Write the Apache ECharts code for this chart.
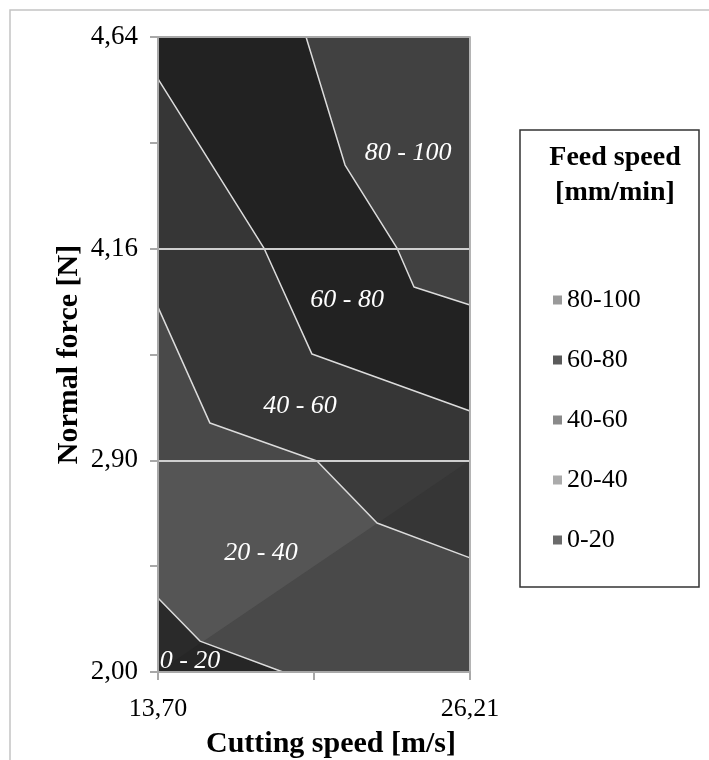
<!DOCTYPE html>
<html><head><meta charset="utf-8">
<script src="https://cdn.jsdelivr.net/npm/echarts@6/dist/echarts.min.js"></script>
<style>html,body{margin:0;padding:0;background:#fff}#c{width:709px;height:760px}</style>
</head><body><div id="c"></div>
<script>
// ---- data ----
const xTickLabels = ['13,70', '', '26,21'];          // cutting speed [m/s] (category positions 0..2)
const yTickLabels = ['2,00', '2,90', '4,16', '4,64'];  // normal force [N] (category positions 0..3)
const bandNames = ['0-20', '20-40', '40-60', '60-80', '80-100'];
const legendOrder = ['80-100', '60-80', '40-60', '20-40', '0-20'];
// contour boundaries: [x position, y position]
const contour20 = [[0, 0.350], [0.269, 0.146], [0.801, 0]];
const contour40 = [[0, 1.724], [0.333, 1.176], [1.019, 0.997], [1.404, 0.704], [2, 0.539]];
const contour60 = [[0, 2.802], [0.679, 2.003], [0.987, 1.502], [2, 1.233]];
const contour80 = [[0.949, 3], [1.199, 2.395], [1.532, 2.003], [1.641, 1.819], [2, 1.734]];
const contours = [contour20, contour40, contour60, contour80];

// ---- styling ----
const X_MIN = 0, X_MAX = 2, Y_MIN = 0, Y_MAX = 3;
const FONT = 'Liberation Serif';
const baseFill  = ['#262626', '#494949', '#363636', '#222222', '#414141'];
const lightFill = ['#2a2a2a', '#555555', '#3b3b3b', '#222222', '#414141'];
const legendColor = ['#6a6a6a', '#ababab', '#8a8a8a', '#5a5a5a', '#9a9a9a'];
const labelAnchor = [[0.205, 0.052], [0.660, 0.562], [0.910, 1.257], [1.212, 1.757], [1.603, 2.452]];
const shadeTriangle = [[X_MIN, Y_MIN], [X_MIN, 1], [X_MAX, 1]];

function regionAbove(k) {
  if (k === 0) return [[X_MIN, Y_MIN], [X_MAX, Y_MIN], [X_MAX, Y_MAX], [X_MIN, Y_MAX]];
  const c = contours[k - 1];
  const pts = c.slice();
  const last = c[c.length - 1];
  if (last[1] === Y_MIN && last[0] < X_MAX) pts.push([X_MAX, Y_MIN]);
  pts.push([X_MAX, Y_MAX]);
  if (c[0][0] === X_MIN) pts.push([X_MIN, Y_MAX]);
  return pts;
}
function signedArea(p) {
  let s = 0;
  for (let i = 0; i < p.length; i++) {
    const a = p[i], b = p[(i + 1) % p.length];
    s += a[0] * b[1] - b[0] * a[1];
  }
  return s;
}
function clipPolygon(subject, clip) {
  let out = subject;
  const sg = signedArea(clip) > 0 ? 1 : -1;
  for (let i = 0; i < clip.length && out.length; i++) {
    const a = clip[i], b = clip[(i + 1) % clip.length];
    const d = p => ((b[0] - a[0]) * (p[1] - a[1]) - (b[1] - a[1]) * (p[0] - a[0])) * sg;
    const inp = out; out = [];
    for (let j = 0; j < inp.length; j++) {
      const cur = inp[j], prev = inp[(j + inp.length - 1) % inp.length];
      const dc = d(cur), dp = d(prev);
      const inter = () => { const t = dp / (dp - dc); return [prev[0] + t * (cur[0] - prev[0]), prev[1] + t * (cur[1] - prev[1])]; };
      if (dc >= 0) { if (dp < 0) out.push(inter()); out.push(cur); }
      else if (dp >= 0) out.push(inter());
    }
  }
  return out;
}

const bandSeries = bandNames.map((name, k) => ({
  type: 'custom',
  name: name,
  data: [[0, 0]],
  z: 2,
  silent: true,
  itemStyle: { color: legendColor[k] },
  renderItem: (params, api) => {
    const toPx = pts => pts.map(p => api.coord(p));
    const poly = regionAbove(k);
    const children = [{ type: 'polygon', shape: { points: toPx(poly) }, style: { fill: baseFill[k] } }];
    const lit = clipPolygon(poly, shadeTriangle);
    if (lit.length > 2) children.push({ type: 'polygon', shape: { points: toPx(lit) }, style: { fill: lightFill[k] } });
    return { type: 'group', children };
  }
}));

const labelSeries = {
  type: 'custom',
  data: bandNames.map((n, k) => labelAnchor[k]),
  z: 5,
  silent: true,
  renderItem: (params, api) => {
    const c = api.coord([api.value(0), api.value(1)]);
    return {
      type: 'text', x: c[0], y: c[1],
      style: { text: bandNames[params.dataIndex].replace('-', ' - '), fill: '#ffffff',
        fontFamily: FONT, fontStyle: 'italic', fontSize: 26, align: 'center', verticalAlign: 'middle' }
    };
  }
};

const lineSeries = contours.map(c => ({
  type: 'line', data: c, symbol: 'none', silent: true, z: 3,
  lineStyle: { color: '#dcdcdc', width: 1.5 }
}));

const chart = echarts.init(document.getElementById('c'), null, { renderer: 'canvas' });
chart.setOption({
  animation: false,
  backgroundColor: '#ffffff',
  grid: { left: 158, top: 37, right: 239, bottom: 88, containLabel: false, outerBoundsMode: 'none' },
  title: {
    text: 'Feed speed\n[mm/min]', left: 610, top: 135, textAlign: 'center',
    textStyle: { fontFamily: FONT, fontWeight: 'bold', fontSize: 28, lineHeight: 35, color: '#000' }
  },
  legend: {
    data: legendOrder, orient: 'vertical', left: 553, top: 287, padding: 0,
    itemWidth: 9, itemHeight: 9, itemGap: 34, icon: 'rect', selectedMode: false,
    textStyle: { fontFamily: FONT, fontSize: 26, color: '#000' }
  },
  graphic: [
    { type: 'rect', shape: { x: 10, y: 10, width: 760, height: 800 }, style: { fill: 'none', stroke: '#c4c4c4', lineWidth: 1.5 }, silent: true },
    { type: 'rect', shape: { x: 520, y: 130, width: 179, height: 457 }, style: { fill: 'none', stroke: '#333333', lineWidth: 1.5 }, silent: true }
  ],
  xAxis: {
    type: 'value', min: X_MIN, max: X_MAX, interval: 1, z: 4,
    name: 'Cutting speed [m/s]', nameLocation: 'middle', nameGap: 57,
    nameTextStyle: { fontFamily: FONT, fontWeight: 'bold', fontSize: 30, color: '#000', padding: [0, 0, 0, 34] },
    axisLine: { show: true, lineStyle: { color: '#a8a8a8', width: 2 } },
    axisTick: { show: true, length: 8, lineStyle: { color: '#a8a8a8', width: 2 } },
    axisLabel: { margin: 24, fontFamily: FONT, fontSize: 26, color: '#000', formatter: v => xTickLabels[Math.round(v)] },
    splitLine: { show: false }
  },
  yAxis: [{
    type: 'value', min: Y_MIN, max: Y_MAX, interval: 1, z: 4,
    name: 'Normal force [N]', nameLocation: 'middle', nameGap: 74,
    nameTextStyle: { fontFamily: FONT, fontWeight: 'bold', fontSize: 30, color: '#000' },
    axisLine: { show: true, lineStyle: { color: '#a8a8a8', width: 2 } },
    axisTick: { show: true, length: 8, lineStyle: { color: '#a8a8a8', width: 2 } },
    minorTick: { show: true, splitNumber: 2, length: 8, lineStyle: { color: '#a8a8a8', width: 2 } },
    axisLabel: { margin: 20, fontFamily: FONT, fontSize: 27, color: '#000', formatter: v => yTickLabels[Math.round(v)] },
    splitLine: { show: true, lineStyle: { color: ['#a8a8a8', '#cfcfcf', '#cfcfcf', '#a8a8a8'], width: 2 } }
  }, {
    type: 'value', min: Y_MIN, max: Y_MAX, position: 'right', z: 4,
    axisLine: { show: true, lineStyle: { color: '#b4b4b4', width: 2 } },
    axisTick: { show: false }, axisLabel: { show: false }, splitLine: { show: false }
  }],
  series: [...bandSeries, ...lineSeries, labelSeries]
});
</script>
</body></html>
